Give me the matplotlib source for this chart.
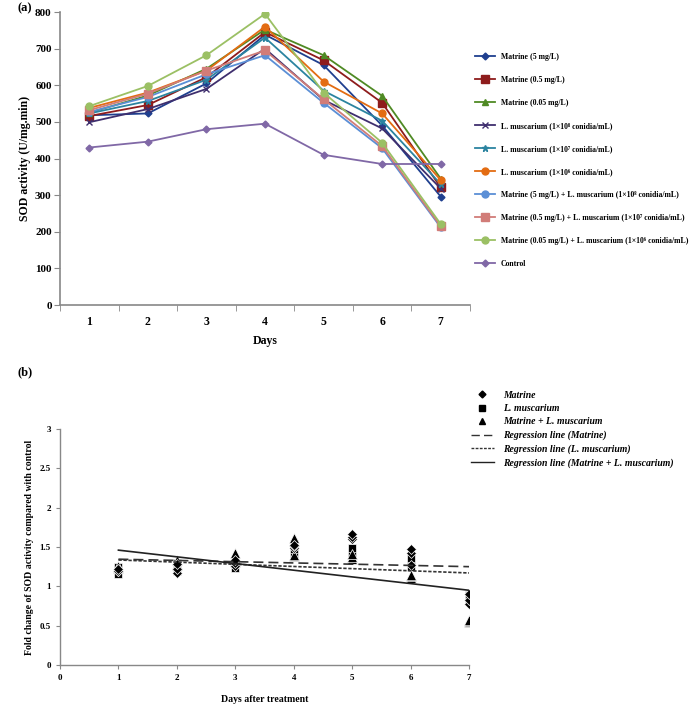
import numpy as np
import matplotlib
matplotlib.use('Agg')
import matplotlib.pyplot as plt
from matplotlib.lines import Line2D
from matplotlib.ticker import MultipleLocator, FixedLocator

plt.rcParams['font.family'] = ['Liberation Serif', 'DejaVu Serif']
plt.rcParams['font.weight'] = 'bold'

#==========================  Data  ====================================================================================
days = [1, 2, 3, 4, 5, 6, 7]

# panel (a): SOD activity (U/mg.min)
labels_a = ['Matrine (5 mg/L)', 'Matrine (0.5 mg/L)', 'Matrine (0.05 mg/L)',
            'L. muscarium (1×10⁸ conidia/mL)', 'L. muscarium (1×10⁷ conidia/mL)',
            'L. muscarium (1×10⁶ conidia/mL)',
            'Matrine (5 mg/L) + L. muscarium (1×10⁸ conidia/mL)',
            'Matrine (0.5 mg/L) + L. muscarium (1×10⁷ conidia/mL)',
            'Matrine (0.05 mg/L) + L. muscarium (1×10⁶ conidia/mL)',
            'Control']
mat_5 = [518, 523, 605, 738, 655, 490, 296]
mat_05 = [516, 546, 622, 745, 668, 552, 321]
mat_005 = [525, 572, 645, 752, 682, 571, 345]
lm_8 = [499, 535, 590, 700, 560, 482, 318]
lm_7 = [523, 557, 615, 730, 585, 503, 330]
lm_6 = [538, 580, 640, 760, 610, 523, 341]
mix_1 = [527, 568, 630, 682, 552, 428, 212]
mix_2 = [532, 577, 640, 695, 562, 434, 215]
mix_3 = [543, 598, 682, 795, 580, 443, 221]
control = [430, 446, 480, 495, 410, 385, 385]

# panel (b): fold change vs control, three concentrations per day
fc_matrine = [[1.20, 1.20, 1.22], [1.17, 1.22, 1.28], [1.26, 1.30, 1.34], [1.49, 1.51, 1.52],
              [1.60, 1.63, 1.66], [1.27, 1.43, 1.48], [0.77, 0.83, 0.90]]
fc_lm = [[1.16, 1.22, 1.25], [1.20, 1.25, 1.30], [1.23, 1.28, 1.33], [1.41, 1.47, 1.54],
         [1.37, 1.43, 1.49], [1.25, 1.31, 1.36], [0.83, 0.86, 0.89]]
fc_mix = [[1.23, 1.24, 1.26], [1.27, 1.29, 1.34], [1.31, 1.33, 1.42], [1.38, 1.40, 1.61],
          [1.35, 1.37, 1.41], [1.11, 1.13, 1.15], [0.55, 0.56, 0.57]]
reg_days = [1, 7]
reg_matrine = [1.345, 1.25]
reg_lm = [1.335, 1.17]
reg_mix = [1.46, 0.95]
#=======================================================================================================================

fig = plt.figure(figsize=(6.97, 7.05), dpi=100)

# ---------------- panel (a)
ax = fig.add_axes([60/697, 1-305/705, 410/697, 293/705])
series = [mat_5, mat_05, mat_005, lm_8, lm_7, lm_6, mix_1, mix_2, mix_3, control]
colors = ['#1f3f8f', '#8e1c1c', '#4f8a24', '#3f2f6e', '#2b84a0', '#e36c12',
          '#5b8fd6', '#d17c78', '#9bc064', '#8068a6']
markers = ['D', 's', '^', 'x', '*', 'o', 'o', 's', 'o', 'D']
msizes = [3.5, 5.5, 5, 5, 5, 5, 5, 5.5, 5, 3.5]
for vals, lab, c, m, ms in zip(series, labels_a, colors, markers, msizes):
    ax.plot(days, vals, color=c, marker=m, ms=ms, lw=1.3, label=lab)

ax.set_xlim(0.5, 7.5)
ax.set_ylim(0, 800)
ax.yaxis.set_major_locator(MultipleLocator(100))
ax.set_xticks(days)
ax.xaxis.set_minor_locator(FixedLocator(np.arange(0.5, 8, 1)))
ax.tick_params(axis='x', which='major', length=0, pad=8, labelsize=8.5)
ax.tick_params(axis='x', which='minor', length=4, color='#888888')
ax.tick_params(axis='y', length=4, color='#888888', labelsize=8, pad=2)
for s in ['top', 'right']:
    ax.spines[s].set_visible(False)
for s in ['left', 'bottom']:
    ax.spines[s].set_color('#888888')
    ax.spines[s].set_linewidth(1.2)
ax.set_ylabel('SOD activity (U/mg.min)', fontsize=8.5, fontweight='bold')
ax.yaxis.set_label_coords(-0.07, 0.5)
ax.set_xlabel('Days', fontsize=8.5, fontweight='bold', labelpad=5)
ax.legend(loc='upper left', bbox_to_anchor=(468/697, 1-46/705), bbox_transform=fig.transFigure,
          frameon=False, fontsize=5.6, labelspacing=1.93, handlelength=2.6, handletextpad=0.7)
fig.text(17/697, 1-8/705, '(a)', fontsize=9, fontweight='bold', va='center')

# ---------------- panel (b)
bx = fig.add_axes([60/697, 1-665/705, 409/697, 236/705])
for d, vm, vl, vx in zip(days, fc_matrine, fc_lm, fc_mix):
    bx.plot([d]*3, vl, ls='none', marker='s', ms=6, color='black', mec='white', mew=0.5)
    bx.plot([d]*3, vx, ls='none', marker='^', ms=6.5, color='black', mec='white', mew=0.5)
    bx.plot([d]*3, vm, ls='none', marker='D', ms=4.8, color='black', mec='white', mew=0.5)
bx.plot(reg_days, reg_matrine, color='#333333', ls=(0, (6, 3)), lw=1.2)
bx.plot(reg_days, reg_lm, color='#333333', ls=(0, (2, 1)), lw=1.2)
bx.plot(reg_days, reg_mix, color='#222222', ls='-', lw=1.2)

bx.set_xlim(0, 7)
bx.set_ylim(0, 3)
bx.set_xticks(range(0, 8))
bx.set_yticks([0, 0.5, 1, 1.5, 2, 2.5, 3])
bx.set_yticklabels(['0', '0.5', '1', '1.5', '2', '2.5', '3'])
bx.tick_params(axis='both', length=3, color='#888888', labelsize=6.5)
for s in ['top', 'right']:
    bx.spines[s].set_visible(False)
for s in ['left', 'bottom']:
    bx.spines[s].set_color('#888888')
    bx.spines[s].set_linewidth(1.0)
bx.set_ylabel('Fold change of SOD activity compared with control', fontsize=7, fontweight='bold')
bx.yaxis.set_label_coords(-0.063, 0.5)
bx.set_xlabel('Days after treatment', fontsize=7, fontweight='bold', labelpad=9)

handles_b = [Line2D([], [], ls='none', marker='D', ms=3.5, color='black'),
             Line2D([], [], ls='none', marker='s', ms=4, color='black'),
             Line2D([], [], ls='none', marker='^', ms=4, color='black'),
             Line2D([], [], color='#333333', ls=(0, (6, 3)), lw=1.0),
             Line2D([], [], color='#333333', ls=(0, (2, 1)), lw=1.0),
             Line2D([], [], color='#222222', ls='-', lw=1.0)]
labels_b = ['Matrine', 'L. muscarium', 'Matrine + L. muscarium', 'Regression line (Matrine)',
            'Regression line (L. muscarium)', 'Regression line (Matrine + L. muscarium)']
leg = bx.legend(handles_b, labels_b, loc='upper left', bbox_to_anchor=(462/697, 1-382/705),
                bbox_transform=fig.transFigure, frameon=False,
                labelspacing=0.44, handlelength=2.4, handletextpad=0.9,
                prop={'style': 'italic', 'weight': 'bold', 'size': 7})
fig.text(17/697, 1-372/705, '(b)', fontsize=9, fontweight='bold', va='center')

fig.savefig('out.png', dpi=100)
